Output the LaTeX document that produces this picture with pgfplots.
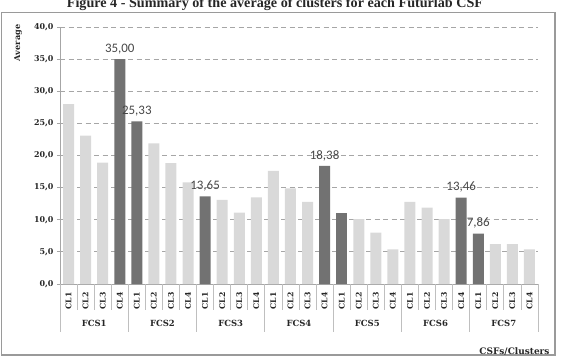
\documentclass[border=0pt]{standalone}
\usepackage{fontspec}
\setmainfont{DejaVu Serif}
\newfontfamily\titlefont{Liberation Serif}
\newfontfamily\lblfont{Carlito}
\usepackage{pgfplots}
\pgfplotsset{compat=1.18}
\usepackage{pgfplotstable}
\definecolor{lightbar}{HTML}{D9D9D9}
\definecolor{darkbar}{HTML}{727272}
\definecolor{gridc}{HTML}{A6A6A6}
\definecolor{framec}{HTML}{9A9A9A}
\definecolor{sepc}{HTML}{BFBFBF}
\definecolor{txt}{HTML}{262626}

\pgfplotstableread{
x y
0 28.0
1 23.1
2 18.9
5 21.9
6 18.8
7 15.8
9 13.1
10 11.1
11 13.5
12 17.6
13 14.9
14 12.8
17 10.1
18 8.0
19 5.4
20 12.8
21 11.9
22 10.1
25 6.2
26 6.2
27 5.4
}\lightdata

\pgfplotstableread{
x y lab
3 35.00 35,00
4 25.33 25,33
8 13.65 13,65
15 18.38 18,38
23 13.46 13,46
24 7.86 7,86
}\darkdata

\pgfplotstableread{
x y
16 11.0
}\darknolab

\begin{document}
\begin{tikzpicture}
\path[use as bounding box] (0,0) rectangle (564bp,-358bp);
\clip (0,0) rectangle (564bp,-358bp);
\node[font=\titlefont\bfseries\fontsize{14.2}{16}\selectfont, anchor=base, text=txt, inner sep=0pt] at (275bp,-7.3bp) {Figure 4 - Summary of the average of clusters for each Futurlab CSF};
\draw[framec, line width=1.2bp] (1.5bp,-12.5bp) rectangle (555bp,-355bp);
\node[font=\bfseries\fontsize{8.2}{10}\selectfont, rotate=90, text=txt] at (18bp,-43bp) {Average};
\node[font=\bfseries\fontsize{9}{11}\selectfont, anchor=east, text=txt] at (553bp,-352bp) {CSFs/Clusters};

\begin{axis}[
  at={(60bp,-284bp)}, anchor=south west,
  scale only axis, width=478bp, height=257bp,
  xmin=-0.5, xmax=27.5, ymin=0, ymax=40,
  axis x line=bottom, axis y line=left,
  axis line style={-, draw=gridc, line width=0.8bp},
  clip=false,
  ytick={0,5,...,40},
  yticklabels={{0,0},{5,0},{10,0},{15,0},{20,0},{25,0},{30,0},{35,0},{40,0}},
  yticklabel style={font=\bfseries\fontsize{8}{10}\selectfont, text=txt},
  ymajorgrids,
  grid style={draw=gridc, line width=0.9bp, dash pattern=on 5bp off 3.5bp},
  tick align=outside,
  major tick length=3bp,
  ytick style={draw=gridc, line width=0.8bp},
  xtick={0,...,27},
  xticklabels={CL1,CL2,CL3,CL4,CL1,CL2,CL3,CL4,CL1,CL2,CL3,CL4,CL1,CL2,CL3,CL4,CL1,CL2,CL3,CL4,CL1,CL2,CL3,CL4,CL1,CL2,CL3,CL4},
  xtick style={draw=none},
  xticklabel style={rotate=90, anchor=east, font=\bfseries\fontsize{7.8}{9}\selectfont, text=txt, inner sep=5bp},
]
\addplot[ybar, bar width=11bp, bar shift=0pt, fill=lightbar, draw=none] table[x=x,y=y]{\lightdata};
\addplot[ybar, bar width=11bp, bar shift=0pt, fill=darkbar, draw=none,
  nodes near coords, point meta=explicit symbolic,
  nodes near coords style={font=\lblfont\fontsize{13}{15}\selectfont, text=txt!85, anchor=south, inner sep=1bp, yshift=4bp}]
  table[x=x,y=y,meta=lab]{\darkdata};
\addplot[ybar, bar width=11bp, bar shift=0pt, fill=darkbar, draw=none] table[x=x,y=y]{\darknolab};
\pgfplotsinvokeforeach{-0.5,0.5,...,27.5}{
  \draw[sepc, line width=0.8bp] (axis cs:#1,0) -- ++(0bp,-26bp);
}
\pgfplotsinvokeforeach{-0.5,3.5,...,27.5}{
  \draw[sepc, line width=0.8bp] (axis cs:#1,0) -- ++(0bp,-48bp);
}
\node[font=\bfseries\fontsize{8.5}{10}\selectfont, text=txt] at (axis cs:1.5,0) [yshift=-39bp] {FCS1};
\node[font=\bfseries\fontsize{8.5}{10}\selectfont, text=txt] at (axis cs:5.5,0) [yshift=-39bp] {FCS2};
\node[font=\bfseries\fontsize{8.5}{10}\selectfont, text=txt] at (axis cs:9.5,0) [yshift=-39bp] {FCS3};
\node[font=\bfseries\fontsize{8.5}{10}\selectfont, text=txt] at (axis cs:13.5,0) [yshift=-39bp] {FCS4};
\node[font=\bfseries\fontsize{8.5}{10}\selectfont, text=txt] at (axis cs:17.5,0) [yshift=-39bp] {FCS5};
\node[font=\bfseries\fontsize{8.5}{10}\selectfont, text=txt] at (axis cs:21.5,0) [yshift=-39bp] {FCS6};
\node[font=\bfseries\fontsize{8.5}{10}\selectfont, text=txt] at (axis cs:25.5,0) [yshift=-39bp] {FCS7};
\end{axis}
\end{tikzpicture}
\end{document}
